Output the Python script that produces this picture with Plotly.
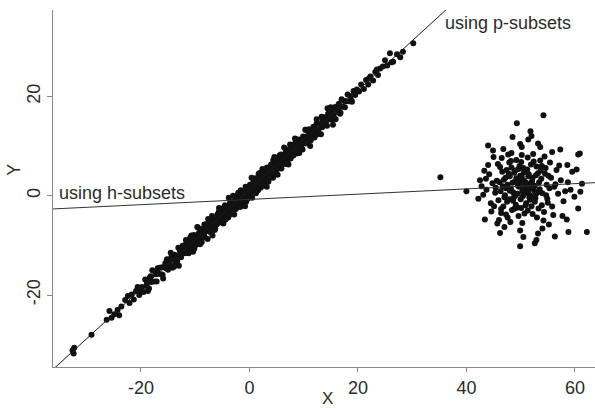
import plotly.graph_objects as go

# Main linear cloud (bulk of the data)
main_x = [
    -32.6, -32.3, -32.4, -29.1, -26.3, -25.8, -25.4, -24.9, -24.3, -24.0,
    -23.6, -22.9, -22.4, -22.1, -21.7, -21.3, -20.9, -20.6, -20.3, -20.1,
    -19.8, -19.5, -19.2, -18.9, -18.7, -18.4, -18.1, -17.9, -17.6, -17.3,
    -17.1, -16.8, -16.6, -16.3, -16.1, -15.9, -15.7, -15.4, -15.2, -15.0,
    -14.8, -14.6, -14.4, -14.2, -14.0, -13.8, -13.7, -13.5, -13.3, -13.1,
    -12.9, -12.8, -12.6, -12.4, -12.3, -12.1, -19.0, -18.2, -17.0, -16.0,
    -15.5, -14.9, -14.1, -13.4, -12.7,
    -11.9, -11.8, -11.6, -11.5, -11.4, -11.2, -11.1, -11.0, -10.8, -10.7,
    -10.6, -10.5, -10.3, -10.2, -10.1, -9.9, -9.8, -9.7, -9.5, -9.4,
    -9.3, -9.1, -9.0, -8.9, -8.7, -8.6, -8.5, -8.3, -8.2, -8.1,
    -7.9, -7.8, -7.7, -7.5, -7.4, -7.3, -7.1, -7.0, -6.9, -6.7,
    -6.6, -6.5, -6.3, -6.2, -6.1, -5.9, -5.8, -5.7, -5.5, -5.4,
    -5.3, -5.1, -5.0, -4.9, -4.7, -4.6, -4.5, -4.3, -4.2, -4.1,
    -3.9, -3.8, -3.7, -3.5, -3.4, -3.3, -3.1, -3.0, -2.9, -2.7,
    -2.6, -2.5, -2.3, -2.2, -2.1, -1.9, -1.8, -1.7, -1.5, -1.4,
    -1.3, -1.1, -1.0, -0.9, -0.7, -0.6, -0.5, -0.3, -0.2, -0.1,
    0.1, 0.2, 0.3, 0.5, 0.6, 0.7, 0.9, 1.0, 1.1, 1.3,
    1.4, 1.5, 1.7, 1.8, 1.9, 2.1, 2.2, 2.3, 2.5, 2.6,
    2.7, 2.9, 3.0, 3.1, 3.3, 3.4, 3.5, 3.7, 3.8, 3.9,
    4.1, 4.2, 4.3, 4.5, 4.6, 4.7, 4.9, 5.0, 5.1, 5.3,
    5.4, 5.5, 5.7, 5.8, 5.9, 6.1, 6.2, 6.3, 6.5, 6.6,
    6.7, 6.9, 7.0, 7.1, 7.3, 7.4, 7.5, 7.7, 7.8, 7.9,
    8.1, 8.2, 8.3, 8.5, 8.6, 8.7, 8.9, 9.0, 9.1, 9.3,
    9.4, 9.5, 9.7, 9.8, 9.9, 10.1, 10.2, 10.3, 10.5, 10.6,
    10.7, 10.9, 11.0, 11.1, 11.3, 11.4, 11.5, 11.7, 11.8, 11.9,
    -11.45, -10.95, -10.45, -9.85, -9.25, -8.75, -8.35, -7.85, -7.25, -6.85,
    -6.45, -6.05, -5.65, -5.25, -4.85, -4.45, -4.05, -3.65, -3.25, -2.85,
    -2.45, -2.05, -1.65, -1.25, -0.85, -0.45, -0.05, 0.35, 0.75, 1.15,
    1.55, 1.95, 2.35, 2.75, 3.15, 3.55, 3.95, 4.35, 4.75, 5.15,
    5.55, 5.95, 6.35, 6.75, 7.15, 7.55, 7.95, 8.35, 8.75, 9.15,
    9.55, 9.95, 10.35, 10.75, 11.15, 11.55, -11.05, -10.15, -9.05, -7.55,
    -5.95, -4.55, -3.15, -1.75, -0.35, 0.95, 2.05, 3.25, 4.45, 6.05,
    7.25, 8.45, 9.65, 10.85, -8.05, -6.25, -3.55, -0.95, 1.65, 4.85,
    -14.5, -13.0, -11.7, -10.4, -9.6, -8.8, -7.6, -6.8, -5.6, -4.8,
    -3.8, -2.8, -1.6, -0.8, 0.4, 1.2, 2.4, 3.2, 4.4, 5.2,
    6.4, 7.2, 8.4, 9.2, 10.4, 11.2, 12.4, 13.2, 14.4, 15.4,
    -18.5, -16.9, -15.3, -13.9, -12.2, -10.9, -9.2, -8.0, -6.4, -5.0,
    -3.6, -2.0, -0.6, 0.8, 2.0, 3.6, 5.0, 6.8, 8.0, 9.6,
    11.0, 12.0, 13.7, 15.1, 16.7, -4.4, -1.2, 1.6, 4.0, 7.6,
    12.1, 12.3, 12.4, 12.6, 12.8, 12.9, 13.1, 13.3, 13.4, 13.6,
    13.8, 13.9, 14.1, 14.3, 14.5, 14.6, 14.8, 15.0, 15.2, 15.3,
    15.5, 15.7, 15.9, 16.1, 16.2, 16.4, 16.6, 16.8, 17.0, 17.2,
    17.4, 17.6, 17.9, 18.1, 18.4, 18.6, 18.9, 19.2, 19.5, 19.8,
    12.7, 13.5, 14.2, 14.9, 15.6, 16.5, 17.7, 18.8,
    20.2, 20.6, 21.1, 21.5, 21.9, 22.3, 22.8, 23.2, 23.7, 24.1,
    24.6, 25.0, 25.4, 25.9, 26.5, 27.2, 27.8, 28.3, 30.2, 22.0,
    23.5, 26.2,
]
main_y = [
    -31.2, -30.6, -31.8, -28.0, -25.0, -23.2, -24.6, -23.9, -23.0, -24.1,
    -22.3, -21.0, -20.2, -21.6, -19.9, -20.9, -19.2, -18.4, -20.0, -19.0,
    -18.4, -19.4, -16.9, -17.7, -19.2, -16.6, -17.4, -15.0, -17.3, -15.8,
    -17.3, -15.7, -14.5, -15.8, -14.4, -16.7, -14.4, -14.6, -12.8, -14.9,
    -13.2, -14.0, -12.4, -14.5, -12.8, -11.9, -13.3, -12.1, -13.3, -10.5,
    -12.1, -11.1, -12.4, -11.1, -10.1, -11.6, -18.2, -16.2, -15.4, -15.9,
    -13.6, -13.9, -12.6, -12.7, -11.6,
    -10.6, -11.6, -9.5, -10.7, -9.8, -11.6, -10.1, -9.1, -10.3, -8.0,
    -10.5, -9.1, -9.4, -7.9, -10.2, -8.2, -9.4, -8.5, -6.4, -8.7,
    -7.5, -9.8, -7.5, -8.3, -6.7, -8.3, -7.4, -5.8, -8.4, -6.5,
    -7.1, -5.9, -8.7, -6.2, -5.2, -7.1, -6.1, -6.5, -4.1, -6.7,
    -5.2, -4.8, -6.6, -5.0, -5.7, -3.8, -4.9, -4.2, -5.4, -3.0,
    -4.8, -3.9, -3.0, -5.0, -3.1, -3.9, -1.9, -4.0, -3.2, -2.3,
    -4.4, -2.5, -2.9, -1.3, -3.3, -1.8, -2.5, 0.0, -2.5, -1.6,
    -0.7, -2.7, -0.9, -1.3, 0.2, -1.7, -0.2, -2.3, -0.3, 0.6,
    -0.6, 0.6, -1.0, 0.1, 1.8, -0.1, 0.8, -0.6, 1.6, 0.7,
    2.2, 0.5, 1.7, -0.4, 1.8, 2.6, 1.5, 3.4, 1.0, 2.8,
    1.8, 2.6, 4.4, 1.9, 3.2, 2.9, 4.2, 1.9, 4.1, 3.1,
    4.5, 2.9, 4.2, 5.4, 4.0, 4.9, 2.8, 5.6, 4.8, 4.1,
    6.3, 4.8, 5.9, 4.3, 7.8, 5.8, 5.2, 6.4, 6.0, 7.3,
    5.5, 7.2, 6.4, 8.3, 5.5, 7.4, 6.6, 8.1, 7.5, 6.5,
    8.8, 7.7, 8.5, 6.5, 9.2, 7.9, 10.3, 7.9, 9.0, 9.5,
    8.1, 9.6, 9.0, 10.7, 8.9, 9.8, 11.3, 8.7, 10.8, 10.2,
    11.3, 9.7, 11.0, 9.3, 11.9, 10.7, 11.8, 13.3, 10.6, 11.8,
    11.2, 13.2, 11.8, 12.6, 11.1, 13.2, 12.5, 12.1, 13.9, 12.6,
    -10.9, -9.4, -8.5, -9.9, -8.1, -7.0, -7.9, -6.6, -7.3, -4.7,
    -5.4, -5.8, -3.3, -4.5, -3.4, -4.8, -2.4, -3.1, -1.2, -2.8,
    -1.1, 0.6, -1.2, -0.3, -1.3, 1.5, 0.8, 2.0, 1.0, 3.5,
    2.3, 3.8, 2.3, 4.0, 5.2, 4.0, 5.4, 3.6, 6.5, 6.1,
    8.1, 6.6, 7.7, 6.8, 8.8, 9.7, 8.3, 9.4, 8.5, 11.1,
    10.4, 11.5, 10.5, 13.0, 12.3, 12.1, -9.9, -10.7, -7.1, -6.6,
    -5.6, -2.5, -1.9, -1.7, 1.4, 1.7, 1.6, 5.7, 5.7, 6.3,
    9.2, 9.1, 11.2, 10.8, -5.8, -5.4, -3.8, 0.5, 3.5, 5.4,
    -11.5, -14.1, -8.9, -11.3, -6.3, -9.4, -4.7, -8.0, -2.5, -5.6,
    -0.4, -3.8, 1.1, -2.1, 3.6, 0.5, 5.4, 1.8, 7.2, 4.2,
    9.7, 6.3, 11.5, 8.6, 13.3, 10.0, 15.4, 12.4, 17.6, 14.3,
    -18.7, -14.6, -13.4, -14.3, -10.1, -8.4, -9.5, -5.8, -6.9, -2.6,
    -1.6, -2.1, -1.2, 3.1, 4.6, 3.4, 7.5, 6.4, 10.2, 9.6,
    13.4, 11.7, 15.8, 17.6, 16.5, -4.8, 1.0, 1.1, 6.3, 7.5,
    13.6, 12.3, 14.6, 13.3, 14.5, 12.5, 14.3, 15.9, 13.8, 14.6,
    15.7, 14.2, 15.5, 14.1, 16.5, 15.7, 15.4, 17.8, 15.3, 16.9,
    16.3, 17.8, 15.4, 17.4, 18.0, 16.8, 17.8, 16.7, 19.4, 17.9,
    19.1, 17.8, 19.0, 20.4, 19.0, 20.1, 18.9, 21.1, 20.3, 21.4,
    13.3, 15.3, 15.1, 16.3, 15.7, 18.5, 19.0, 19.2,
    21.0, 22.4, 21.5, 23.3, 22.4, 24.0, 23.2, 24.9, 24.3, 25.6,
    26.0, 27.3, 26.2, 28.7, 27.0, 28.5, 27.9, 29.0, 30.7, 23.6,
    25.4, 26.9,
]

# Outlying cluster to the right
out_x = [
    48.2, 51.7, 46.9, 53.4, 50.1, 49.0, 52.8, 47.5, 55.1, 50.8,
    45.3, 49.6, 51.9, 47.8, 53.9, 50.3, 48.7, 56.2, 44.8, 52.2,
    49.2, 51.3, 46.4, 54.6, 50.6, 47.1, 53.0, 48.9, 57.4, 51.0,
    43.7, 50.0, 52.5, 46.2, 54.0, 48.4, 55.8, 49.8, 51.6, 47.3,
    53.6, 45.9, 50.4, 58.2, 48.0, 52.0, 46.7, 54.8, 49.4, 51.2,
    44.2, 50.9, 47.9, 53.2, 49.1, 56.6, 45.6, 52.7, 48.6, 51.4,
    50.2, 47.6, 54.3, 46.0, 52.9, 49.5, 57.9, 43.1, 51.8, 48.8,
    55.4, 50.7, 46.5, 53.5, 49.3, 52.3, 47.0, 54.9, 50.5, 45.1,
    51.1, 48.1, 53.8, 49.7, 56.9, 47.4, 52.1, 44.5, 50.0, 54.4,
    48.5, 51.5, 46.3, 55.6, 49.9, 52.6, 47.7, 53.1, 50.3, 58.7,
    45.8, 49.0, 52.4, 47.2, 54.2, 50.8, 48.3, 56.0, 51.6, 46.8,
    53.7, 49.4, 50.6, 44.0, 52.0, 48.0, 55.3, 47.6, 51.3, 59.5,
    49.8, 46.1, 53.3, 50.1, 48.6, 52.8, 45.4, 54.7, 51.0, 47.9,
    57.1, 50.4, 46.6, 52.2, 49.2, 53.9, 48.2, 51.9, 55.0, 43.6,
    50.9, 47.3, 52.6, 49.6, 54.5, 46.4, 51.4, 48.9, 56.4, 50.2,
    54.2, 49.3, 52.0, 44.0, 44.9, 35.2, 40.0, 49.9, 52.6, 56.3,
    58.8, 62.2, 58.5, 60.6, 60.9, 60.3, 53.2, 43.4, 45.7, 49.9,
    57.3, 46.8, 48.3, 49.9, 50.2, 51.4, 53.2, 53.6, 60.6, 52.9,
    42.2, 42.8, 47.0, 55.2, 59.9, 61.3, 61.0, 59.2, 44.6, 46.2,
    50.5, 54.0, 57.7, 45.0, 58.6, 55.8, 48.5, 51.8, 43.3, 42.5,
]
out_y = [
    1.4, -0.8, 3.2, 2.7, -2.5, 5.1, 0.3, -1.2, 4.0, 2.1,
    0.6, -4.1, 6.3, 4.4, -1.9, 0.9, -0.4, 1.8, 2.5, 3.6,
    7.2, -3.0, -2.7, 5.6, 4.7, 0.1, -4.4, 2.8, 3.1, -1.5,
    1.2, 3.3, 1.0, 5.8, 0.5, -2.9, -2.2, 6.0, 2.4, -3.8,
    7.1, -0.9, -0.1, 0.9, 3.9, -2.1, 1.9, 2.2, 0.4, 5.3,
    4.3, 1.6, 6.7, 4.5, -1.8, 5.2, 3.0, -0.5, 0.7, 3.9,
    8.2, 2.2, -3.3, -4.9, 5.9, 2.0, -1.1, 0.2, 0.0, 4.6,
    6.7, -3.6, 7.6, 1.3, 3.1, 8.4, -0.3, -0.6, 5.6, -2.1,
    1.1, -5.3, 3.4, 1.8, 0.4, 5.2, 2.9, -1.5, -0.7, 7.9,
    2.6, 4.3, 0.9, 3.6, 4.0, -1.2, 8.3, 0.7, -5.5, 2.7,
    6.4, 0.0, 6.9, 3.6, -5.0, 0.5, 5.7, -3.9, -0.3, -2.2,
    5.0, -2.4, 3.0, 6.2, 1.7, 1.0, 1.5, -4.4, 7.7, 4.8,
    2.4, 2.7, -2.6, 6.8, -1.0, 4.1, 1.6, 0.1, 2.6, -0.7,
    6.1, 1.3, 4.8, -3.7, 3.5, 6.0, 7.0, 1.5, -1.4, 3.4,
    -1.9, 1.5, 2.0, 5.4, 4.4, -3.5, 0.6, -2.6, 2.3, 3.8,
    16.2, 14.6, 12.0, 10.1, 9.1, 3.7, 0.9, -10.2, -9.6, -8.2,
    -7.3, -7.3, -4.8, -2.6, 8.5, 5.3, -7.6, -4.8, -5.6, -7.0,
    9.3, 9.4, 8.6, 10.4, 9.8, 11.3, 10.5, 9.8, 8.3, -8.9,
    -0.6, 1.9, -6.3, -5.8, -0.2, 2.4, 0.8, 1.2, -3.2, -7.5,
    -8.3, -6.6, -4.1, 7.8, 6.2, 8.8, 11.8, 13.0, 5.0, 3.1,
]

# Fitted lines: (intercept, slope)
p_fit = (1.2, 1.0)
h_fit = (-0.75, 0.053)

x_range = [-36.2, 63.7]
y_range = [-34.5, 37.4]
x_ticks = [-20, 0, 20, 40, 60]
x_ticklabels = ["-20", "0", "20", "40", "60"]
y_ticks = [-20, 0, 20]
y_ticklabels = ["-20", "0", "20"]

FONT = "Liberation Sans, Arial, Helvetica, sans-serif"
AXIS_GREY = "#8a8a8a"
TEXT = "#2b2b2b"

fig = go.Figure()

fig.add_trace(go.Scatter(
    x=main_x + out_x, y=main_y + out_y, mode="markers",
    marker=dict(size=6, color="#111111", line=dict(width=0)),
    showlegend=False, hoverinfo="x+y",
))

for (b0, b1), col in ((p_fit, "#1a1a1a"), (h_fit, "#333333")):
    fig.add_trace(go.Scatter(
        x=x_range, y=[b0 + b1 * xv for xv in x_range], mode="lines",
        line=dict(color=col, width=1), showlegend=False, hoverinfo="skip",
    ))

fig.add_annotation(x=35.7, y=34.7, text="using p-subsets", showarrow=False,
                   xanchor="left", yanchor="middle",
                   font=dict(family=FONT, size=18, color=TEXT))
fig.add_annotation(x=-35.4, y=0.6, text="using h-subsets", showarrow=False,
                   xanchor="left", yanchor="middle",
                   font=dict(family=FONT, size=18, color=TEXT))

# Axis titles
fig.add_annotation(x=0.507, y=-0.088, xref="paper", yref="paper", text="X",
                   showarrow=False, xanchor="center", yanchor="middle",
                   font=dict(family=FONT, size=17, color=TEXT))
fig.add_annotation(x=-0.071, y=0.551, xref="paper", yref="paper", text="Y",
                   showarrow=False, textangle=-90, xanchor="center", yanchor="middle",
                   font=dict(family=FONT, size=18, color=TEXT))

fig.update_layout(
    width=595, height=408,
    margin=dict(l=53, r=0, t=10, b=41, pad=0),
    paper_bgcolor="white", plot_bgcolor="white",
    font=dict(family=FONT, size=18, color=TEXT),
    xaxis=dict(range=x_range, tickvals=x_ticks, ticktext=x_ticklabels,
               showgrid=False, zeroline=False, showline=True,
               linecolor=AXIS_GREY, linewidth=1.3, mirror=False,
               ticks="outside", ticklen=4, tickwidth=1.3, tickcolor=AXIS_GREY,
               tickfont=dict(family=FONT, size=18, color=TEXT)),
    yaxis=dict(range=y_range, tickvals=y_ticks, ticktext=y_ticklabels, tickangle=-90,
               showgrid=False, zeroline=False, showline=True,
               linecolor=AXIS_GREY, linewidth=1.3, mirror=False,
               ticks="outside", ticklen=5, tickwidth=1.3, tickcolor=AXIS_GREY,
               tickfont=dict(family=FONT, size=18, color=TEXT)),
)

fig.write_html("out.html")
